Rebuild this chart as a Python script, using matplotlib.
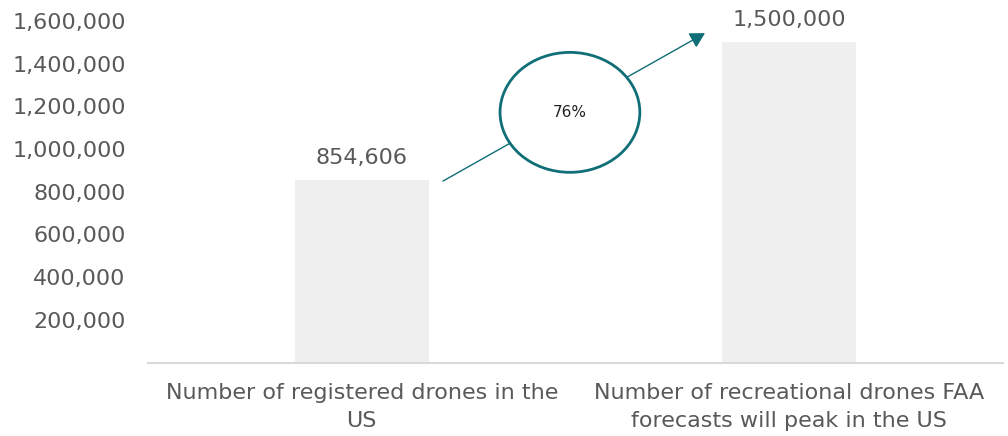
import matplotlib
matplotlib.use("Agg")
import matplotlib.pyplot as plt
from matplotlib.patches import Ellipse, FancyArrowPatch

categories = ["Number of registered drones in the\nUS",
              "Number of recreational drones FAA\nforecasts will peak in the US"]
values = [854606, 1500000]
value_labels = ["854,606", "1,500,000"]
yticks = [200000, 400000, 600000, 800000, 1000000, 1200000, 1400000, 1600000]
ytick_labels = ["200,000", "400,000", "600,000", "800,000", "1,000,000",
                "1,200,000", "1,400,000", "1,600,000"]
growth_label = "76%"

plt.rcParams['font.family'] = ['DejaVu Sans']
TXT = "#595959"
TEAL = "#0f6e76"

fig = plt.figure(figsize=(10.08, 4.36), dpi=100)
ax = fig.add_axes([148/1008, 1 - 362.5/436, 855/1008, (362.5 - 21)/436])

x = list(range(len(categories)))
ax.bar(x, values, width=0.313, color="#efefef", zorder=1)
ax.set_xlim(-0.5, 1.5)
ax.set_ylim(0, 1600000)
ax.set_yticks(yticks)
ax.set_yticklabels(ytick_labels)
ax.set_xticks(x)
ax.set_xticklabels(categories, linespacing=1.45)
ax.tick_params(axis='y', length=0, labelsize=16, labelcolor=TXT, pad=16)
ax.tick_params(axis='x', length=0, labelsize=16, labelcolor=TXT, pad=15)
for s in ["top", "right", "left"]:
    ax.spines[s].set_visible(False)
ax.spines["bottom"].set_color("#d9d9d9")
ax.spines["bottom"].set_linewidth(1.5)

for xi, v, lab in zip(x, values, value_labels):
    ax.annotate(lab, (xi, v), xytext=(0, 9), textcoords="offset points",
                ha="center", va="bottom", fontsize=16, color=TXT,
                annotation_clip=False)

arrow = FancyArrowPatch((0.19, 850000), (0.803, 1543000), arrowstyle="-|>,head_length=9,head_width=5",
                        color=TEAL, lw=1.0, zorder=2, clip_on=False, shrinkA=0, shrinkB=0)
ax.add_patch(arrow)
ell = Ellipse((0.487, 1172000), 0.327, 562000, facecolor="white", edgecolor=TEAL,
              lw=2.0, zorder=3, clip_on=False)
ax.add_patch(ell)
ax.text(0.487, 1172000, growth_label, ha="center", va="center", fontsize=11,
        color="#222222", zorder=4)

fig.savefig("out.png", dpi=100)
